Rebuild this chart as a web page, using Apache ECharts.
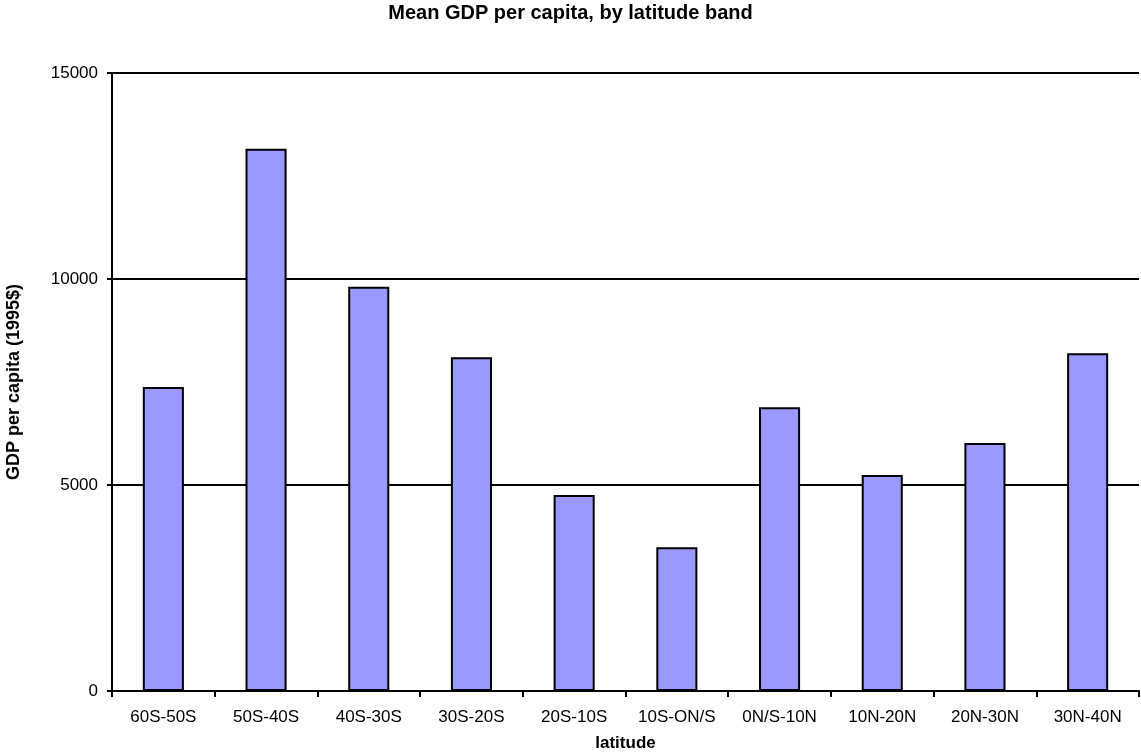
<!DOCTYPE html>
<html>
<head>
<meta charset="utf-8">
<script src="https://cdn.jsdelivr.net/npm/echarts@6/dist/echarts.min.js"></script>
<style>
  html, body { margin: 0; padding: 0; background: #fff; }
  #chart { width: 1141px; height: 755px; }
</style>
</head>
<body>
<div id="chart"></div>
<script>
// Latitude bands and mean GDP per capita (1995 dollars)
const bands = ['60S-50S', '50S-40S', '40S-30S', '30S-20S', '20S-10S', '10S-ON/S', '0N/S-10N', '10N-20N', '20N-30N', '30N-40N'];
const gdpPerCapita = [7380, 13160, 9810, 8100, 4760, 3490, 6890, 5240, 6020, 8200];
const yTicks = [0, 5000, 10000, 15000];

const font = 'Liberation Sans, Arial, sans-serif';
const chart = echarts.init(document.getElementById('chart'), null, { renderer: 'canvas' });

chart.setOption({
  animation: false,
  backgroundColor: '#ffffff',
  title: {
    text: 'Mean GDP per capita, by latitude band',
    left: 'center',
    top: 0,
    padding: [3, 5, 3, 5],
    textStyle: { fontFamily: font, fontSize: 20, fontWeight: 'bold', color: '#000' }
  },
  grid: { left: 112, right: 2, top: 73, bottom: 64, outerBoundsMode: 'none', containLabel: false },
  xAxis: {
    type: 'category',
    data: bands,
    name: 'latitude',
    nameLocation: 'middle',
    nameGap: 44,
    nameTextStyle: { fontFamily: font, fontSize: 17, fontWeight: 'bold', color: '#000' },
    axisLine: { lineStyle: { color: '#000', width: 2 } },
    axisTick: { show: true, length: 6, alignWithLabel: false, lineStyle: { color: '#000', width: 2 } },
    axisLabel: { fontFamily: font, fontSize: 17, color: '#000', margin: 18, interval: 0 }
  },
  yAxis: {
    type: 'value',
    min: yTicks[0],
    max: yTicks[yTicks.length - 1],
    interval: yTicks[1] - yTicks[0],
    name: 'GDP per capita (1995$)',
    nameLocation: 'middle',
    nameRotate: 90,
    nameGap: 89,
    nameTextStyle: { fontFamily: font, fontSize: 18, fontWeight: 'bold', color: '#000' },
    axisLine: { show: true, lineStyle: { color: '#000', width: 2 } },
    axisTick: { show: true, length: 5, lineStyle: { color: '#000', width: 2 } },
    axisLabel: {
      fontFamily: font, fontSize: 17, color: '#000', margin: 14,
      formatter: v => String(v)
    },
    splitLine: { show: true, lineStyle: { color: '#000', width: 2 } }
  },
  series: [{
    type: 'bar',
    data: gdpPerCapita,
    barCategoryGap: '60%',
    itemStyle: { color: '#9999ff', borderColor: '#000', borderWidth: 2 }
  }]
});
</script>
</body>
</html>
